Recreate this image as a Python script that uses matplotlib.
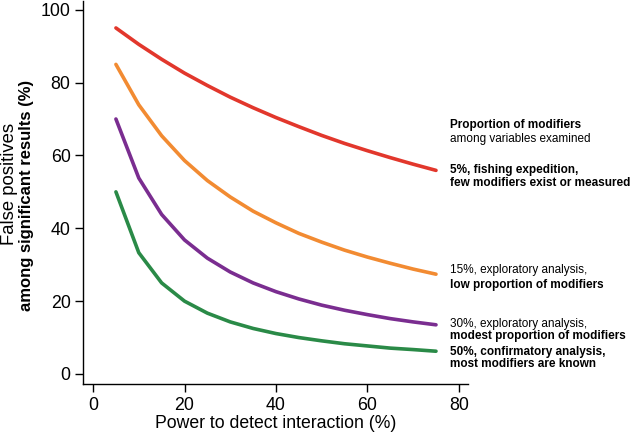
import matplotlib
matplotlib.use("Agg")
import matplotlib.pyplot as plt

plt.rcParams['font.family'] = ['Liberation Sans', 'DejaVu Sans']

power = [5, 10, 15, 20, 25, 30, 35, 40, 45, 50, 55, 60, 65, 70, 75]
fp_5 = [95.0, 90.5, 86.4, 82.6, 79.2, 76.0, 73.1, 70.4, 67.9, 65.5, 63.3, 61.3, 59.4, 57.6, 55.9]
fp_15 = [85.0, 73.9, 65.4, 58.6, 53.1, 48.6, 44.7, 41.5, 38.6, 36.2, 34.0, 32.1, 30.4, 28.8, 27.4]
fp_30 = [70.0, 53.8, 43.8, 36.8, 31.8, 28.0, 25.0, 22.6, 20.6, 18.9, 17.5, 16.3, 15.2, 14.3, 13.5]
fp_50 = [50.0, 33.3, 25.0, 20.0, 16.7, 14.3, 12.5, 11.1, 10.0, 9.1, 8.3, 7.7, 7.1, 6.7, 6.25]

xticks = [0, 20, 40, 60, 80]
yticks = [0, 20, 40, 60, 80, 100]

fig = plt.figure(figsize=(6.31, 4.32), dpi=100)
ax = fig.add_axes([83/631, 48/432, (468-83)/631, (384-1)/432])

lw = 2.6
ax.plot(power, fp_5, color='#e2372c', lw=lw, solid_capstyle='round')
ax.plot(power, fp_15, color='#f28b32', lw=lw, solid_capstyle='round')
ax.plot(power, fp_30, color='#7a2d90', lw=lw, solid_capstyle='round')
ax.plot(power, fp_50, color='#2a8a47', lw=lw, solid_capstyle='round')

ax.set_xlim(-2.2, 82)
ax.set_ylim(-2.75, 102.4)
ax.set_xticks(xticks)
ax.set_yticks(yticks)
ax.spines['top'].set_visible(False)
ax.spines['right'].set_visible(False)
for s in ['left', 'bottom']:
    ax.spines[s].set_linewidth(1.0)
ax.tick_params(direction='out', length=6, width=1.0, labelsize=12.8, pad=3)
ax.set_xlabel('Power to detect interaction (%)', fontsize=12.7, labelpad=1)

fig.text(10/631, 1 - 184/432, 'False positives', rotation=90,
         ha='center', va='center', fontsize=13.3)
fig.text(27/631, 1 - 195/432, 'among significant results (%)', rotation=90,
         ha='center', va='center', fontsize=12, fontweight='bold')

tx = 78.0
fs = 8.5
labels = [
    ('Proportion of modifiers', 67.5, 'bold'),
    ('among variables examined', 63.8, 'normal'),
    ('5%, fishing expedition,', 55.3, 'bold'),
    ('few modifiers exist or measured', 51.6, 'bold'),
    ('15%, exploratory analysis,', 27.7, 'normal'),
    ('low proportion of modifiers', 23.5, 'bold'),
    ('30%, exploratory analysis,', 13.0, 'normal'),
    ('modest proportion of modifiers', 9.5, 'bold'),
    ('50%, confirmatory analysis,', 5.2, 'bold'),
    ('most modifiers are known', 1.8, 'bold'),
]
for t, y, w in labels:
    ax.text(tx, y, t, ha='left', va='baseline', fontsize=fs, fontweight=w, clip_on=False)

fig.savefig('out.png', dpi=100)
